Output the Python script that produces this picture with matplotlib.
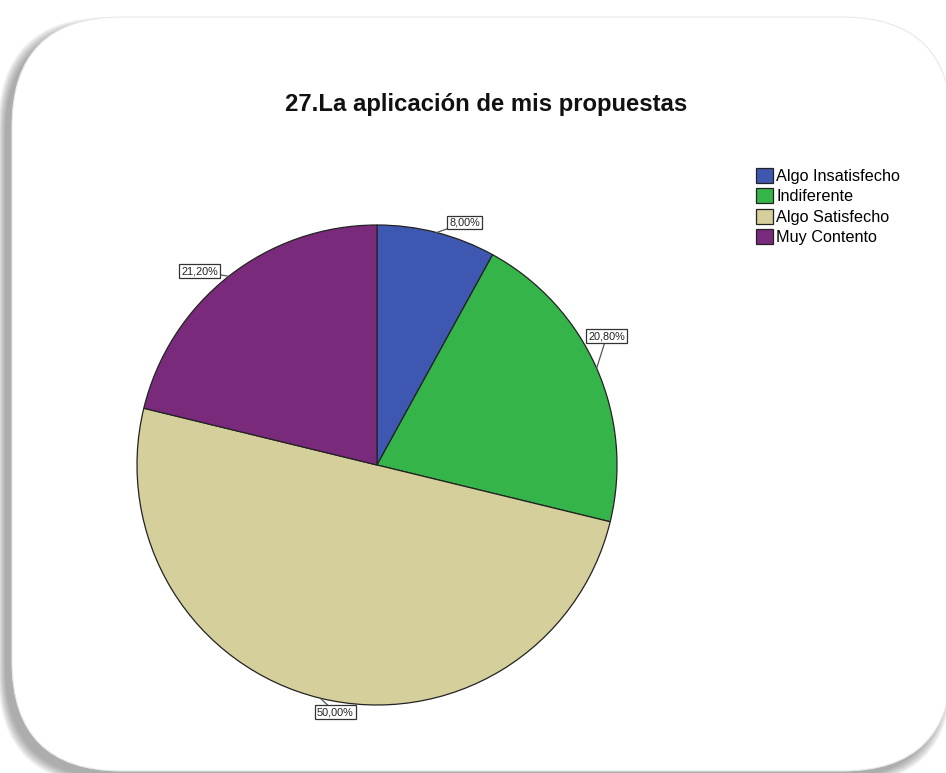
import numpy as np
import matplotlib
matplotlib.use("Agg")
import matplotlib.pyplot as plt
from matplotlib.patches import FancyBboxPatch

plt.rcParams['font.family'] = ['Liberation Sans', 'DejaVu Sans']

# Survey item 27: satisfaction with how one's own proposals are applied
categories = ["Algo Insatisfecho", "Indiferente", "Algo Satisfecho", "Muy Contento"]
percentages = [8.0, 20.8, 50.0, 21.2]
colors = ["#3E58B2", "#34B449", "#D4CF9B", "#7A2A7B"]
title = "27.La aplicación de mis propuestas"

W, H = 946, 773
fig = plt.figure(figsize=(W / 100, H / 100), dpi=100)
ax = fig.add_axes([0, 0, 1, 1])

# rounded white card with a soft drop shadow towards the lower left
x0, y0, x1, y1 = 12, 2, 952, 756
for k in range(9):
    ax.add_patch(FancyBboxPatch((x0 - 7, y0 - 7), x1 - x0, y1 - y0,
                                boxstyle=f"round,pad={k * 0.85},rounding_size=110",
                                fc="#555555", ec="none", alpha=0.065, zorder=0))
ax.add_patch(FancyBboxPatch((x0, y0), x1 - x0, y1 - y0,
                            boxstyle="round,pad=0,rounding_size=110",
                            fc="white", ec="#e8e8e8", lw=0.8, zorder=1))

cx, cy, r = 377, H - 465, 240
start = 90
wedges, _ = ax.pie(percentages, colors=colors, startangle=start, counterclock=False,
                   center=(cx, cy), radius=r,
                   wedgeprops=dict(edgecolor="#222222", linewidth=0.9, zorder=2))

# boxed value labels with short leader lines (offsets follow the wedge order)
label_offsets = [(28, 10), (10, 32), (15, -14), (-29, 5)]
total = sum(percentages)
cum = 0.0
for p, (dx, dy) in zip(percentages, label_offsets):
    mid = np.deg2rad(start - 360.0 * (cum + p / 2) / total)
    cum += p
    ex, ey = cx + r * np.cos(mid), cy + r * np.sin(mid)
    lx, ly = ex + dx, ey + dy
    ax.plot([ex, lx], [ey, ly], color="#555555", lw=0.9, zorder=3)
    ax.text(lx, ly, f"{p:.2f}".replace(".", ",") + "%", fontsize=7.8,
            ha="center", va="center", color="#222222", zorder=4,
            bbox=dict(boxstyle="square,pad=0.18", fc="white", ec="#333333", lw=0.9))

ax.text(486, H - 104, title, fontsize=17.2, fontweight="bold",
        ha="center", va="center", color="#111111", zorder=4)

ax.legend(handles=wedges, labels=categories, loc="upper left",
          bbox_to_anchor=(756 / W, 1 - 168 / H), frameon=False, fontsize=11.7,
          handlelength=1.05, handleheight=1.05, handletextpad=0.2,
          labelspacing=0.26, borderpad=0, borderaxespad=0)

ax.set_xlim(0, W)
ax.set_ylim(0, H)
ax.set_aspect("auto")
ax.axis("off")

fig.savefig("out.png", dpi=100)
